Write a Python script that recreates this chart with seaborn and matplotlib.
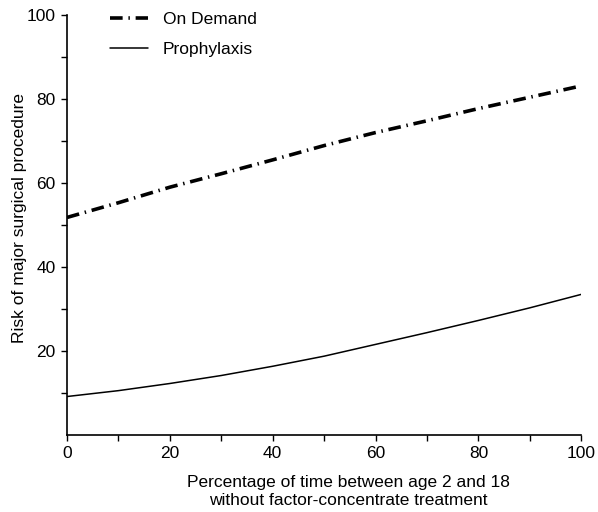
import numpy as np
import pandas as pd
import seaborn as sns
import matplotlib.pyplot as plt
from matplotlib.ticker import MultipleLocator

# values
pct_untreated = [0, 10, 20, 30, 40, 50, 60, 70, 80, 90, 100]
on_demand = [51.8, 55.3, 59.0, 62.2, 65.5, 68.9, 72.0, 74.8, 77.7, 80.4, 83.1]
prophylaxis = [9.2, 10.6, 12.3, 14.2, 16.4, 18.8, 21.6, 24.4, 27.3, 30.3, 33.5]

sns.set_style("ticks")
plt.rcParams['font.family'] = ['Liberation Sans', 'DejaVu Sans']
plt.rcParams['text.color'] = 'black'
plt.rcParams['axes.labelcolor'] = 'black'

df_od = pd.DataFrame({"x": pct_untreated, "y": on_demand})
df_pr = pd.DataFrame({"x": pct_untreated, "y": prophylaxis})

fig = plt.figure(figsize=(5.98, 5.12), dpi=100)
ax = fig.add_axes([0.112, 0.15, 0.86, 0.821])

sns.lineplot(data=df_od, x="x", y="y", ax=ax, color="black", linewidth=2.6,
             label="On Demand", linestyle=(0, (3.5, 1.6, 0.4, 1.6)))
sns.lineplot(data=df_pr, x="x", y="y", ax=ax, color="black", linewidth=1.1,
             label="Prophylaxis")

ax.set_xlim(0, 100)
ax.set_ylim(0, 100)
ax.set_xticks([0, 20, 40, 60, 80, 100])
ax.set_yticks([20, 40, 60, 80, 100])
ax.xaxis.set_minor_locator(MultipleLocator(10))
ax.set_yticks([10, 30, 50, 70, 90], minor=True)
ax.tick_params(which="both", direction="out", length=4, width=1, labelsize=12.5, colors="black")
ax.tick_params(which="both", pad=4)
for s in ["top", "right"]:
    ax.spines[s].set_visible(False)
for s in ["left", "bottom"]:
    ax.spines[s].set_linewidth(1.2)
    ax.spines[s].set_color("black")

ax.set_xlabel("Percentage of time between age 2 and 18\nwithout factor-concentrate treatment",
              fontsize=12.5, linespacing=1.25, color="black")
ax.xaxis.set_label_coords(0.547, -0.094, transform=ax.transAxes)
ax.xaxis.label.set_verticalalignment("top")
ax.set_ylabel("Risk of major surgical procedure", fontsize=12.5, color="black")
ax.yaxis.set_label_coords(-0.078, 0.517)

leg = ax.legend(loc="upper left", bbox_to_anchor=(0.053, 1.045), frameon=False,
                fontsize=12.5, handlelength=2.2, labelspacing=0.85, handletextpad=0.86)
for t in leg.get_texts():
    t.set_color("black")

fig.savefig("out.png", dpi=100)
